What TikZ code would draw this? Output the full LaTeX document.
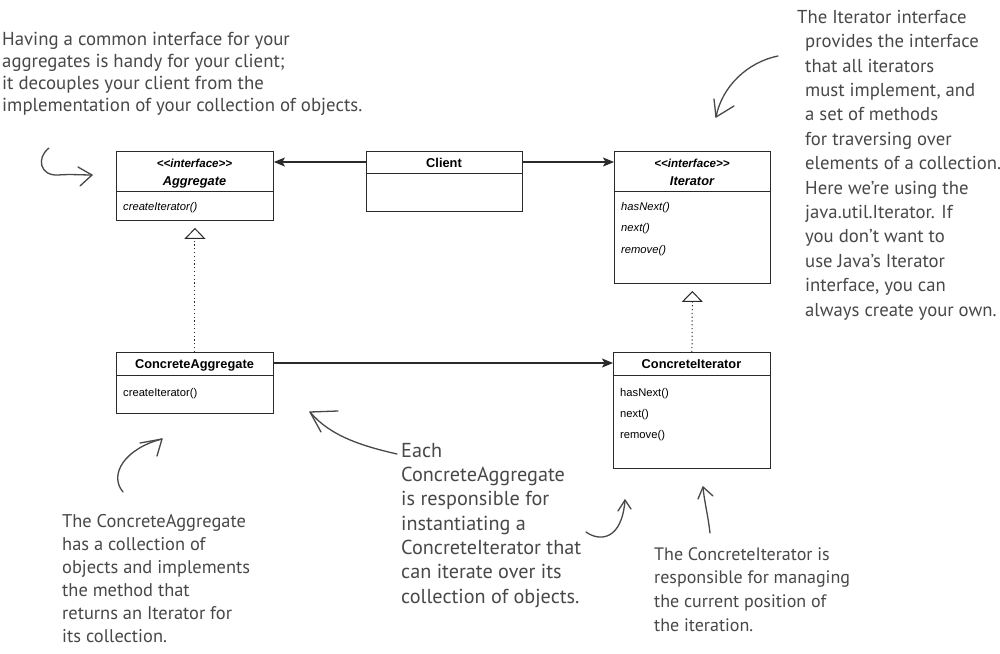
\documentclass[tikz,border=0pt]{standalone}
\usepackage{fontspec}
\setmainfont{Liberation Sans}
\newfontfamily\handfont{PT Sans}
\usetikzlibrary{arrows.meta,backgrounds}
\definecolor{handgray}{HTML}{484848}
\definecolor{umlgray}{HTML}{2A2A2A}
\begin{document}
\begin{tikzpicture}[x=1pt,y=-1pt,
  umlbox/.style={draw=umlgray, line width=0.9pt, fill=white, inner sep=0pt, anchor=north west},
  divider/.style={draw=umlgray, line width=0.8pt},
  title/.style={anchor=base, inner sep=0pt, font=\fontsize{12.8}{14}\selectfont\bfseries},
  ititle/.style={anchor=base, inner sep=0pt, font=\fontsize{12.8}{14}\selectfont\bfseries\itshape},
  stereo/.style={anchor=base, inner sep=0pt, font=\fontsize{11.6}{13}\selectfont\bfseries\itshape},
  meth/.style={anchor=base west, inner sep=0pt, font=\fontsize{11.2}{13}\selectfont},
  imeth/.style={anchor=base west, inner sep=0pt, font=\fontsize{11.2}{13}\selectfont\itshape},
  assoc/.style={draw=umlgray, line width=1.1pt, -{Stealth[length=11pt, width=9pt, inset=2.5pt]}},
  realize/.style={draw=umlgray, line width=1pt, dash pattern=on 1.2pt off 2.6pt,
    shorten >=7pt, -{Triangle[open, length=11pt, width=21pt, fill=white, line width=1pt]}},
  note/.style n args={2}{anchor=north west, align=left, inner sep=0pt, text=handgray,
    font=\handfont\fontsize{#1}{#2}\selectfont},
  hand/.style={draw=handgray, line width=1.3pt, line cap=round, line join=round}
]
\useasboundingbox (0,0) rectangle (1000,653);
\fill[white] (0,0) rectangle (1000,653);

% ---------- UML boxes ----------
\node[umlbox, minimum width=157pt, minimum height=69pt]  (agg)    at (116,151) {};
\node[umlbox, minimum width=156pt, minimum height=60pt]  (client) at (366,151) {};
\node[umlbox, minimum width=156pt, minimum height=132pt] (iter)   at (614,151) {};
\node[umlbox, minimum width=157pt, minimum height=61pt]  (cagg)   at (116,352) {};
\node[umlbox, minimum width=157pt, minimum height=116pt] (citer)  at (613,352) {};

\begin{scope}[on background layer]
  \foreach \n in {agg,client,iter,cagg,citer}{
    \foreach \k in {0,1,2,3,4}{
      \fill[black, opacity=0.13] ([shift={(6-\k,8-\k)}]\n.north west) rectangle ([shift={(1+\k,3+\k)}]\n.south east);
    }
  }
\end{scope}

% dividers
\draw[divider] (116,191) -- (273,191);
\draw[divider] (366,173) -- (522,173);
\draw[divider] (614,191) -- (770,191);
\draw[divider] (116,375) -- (273,375);
\draw[divider] (613,375) -- (770,375);

% texts
\node[stereo] (aggst) at (194.5,167) {{<}{<}interface{>}{>}};
\node[ititle] (aggt)  at (194.5,185) {Aggregate};
\node[imeth]  (aggm)  at (123,210) {createIterator()};

\node[title]  (clientt) at (444,167) {Client};

\node[stereo] (iterst) at (692,167) {{<}{<}interface{>}{>}};
\node[ititle] (itert)  at (692,185) {Iterator};
\node[imeth]  (iterm1) at (621,210) {hasNext()};
\node[imeth]  (iterm2) at (621,231) {next()};
\node[imeth]  (iterm3) at (621,253) {remove()};

\node[title]  (caggt) at (194.5,368) {ConcreteAggregate};
\node[meth]   (caggm) at (123,396) {createIterator()};

\node[title]  (citert)  at (691.5,368) {ConcreteIterator};
\node[meth]   (citerm1) at (620,396) {hasNext()};
\node[meth]   (citerm2) at (620,417) {next()};
\node[meth]   (citerm3) at (620,438) {remove()};

% ---------- UML connectors ----------
\draw[assoc] ([shift={(0,11)}]client.north west) -- ([shift={(0,11)}]agg.north east);
\draw[assoc] ([shift={(0,11)}]client.north east) -- ([shift={(0,11)}]iter.north west);
\draw[assoc] ([shift={(0,11)}]cagg.north east) -- ([shift={(0,11)}]citer.north west);
\draw[realize] (cagg.north) -- (agg.south);
\draw[realize] (citer.north) -- (iter.south);

% ---------- handwritten notes ----------
\node[note={18.8}{22.2pt}] (n1) at (2,31) {\rule{0pt}{14pt}Having a common interface for your\\
aggregates is handy for your client;\\
it decouples your client from the\\
implementation of your collection of objects.};

\node[note={18.7}{24.4pt}] (n2) at (805,9) {\rule{0pt}{14pt}\hspace*{-8pt}The Iterator interface\\
provides the interface\\
that all iterators\\
must implement, and\\
a set of methods\\
for traversing over\\
elements of a collection.\\
Here we’re using the\\
java.util.Iterator. If\\
you don’t want to\\
use Java’s Iterator\\
interface, you can\\
always create your own.};

\node[note={18.4}{23pt}] (n3) at (62,513) {\rule{0pt}{14pt}The ConcreteAggregate\\
has a collection of\\
objects and implements\\
the method that\\
returns an Iterator for\\
its collection.};

\node[note={20.2}{24.3pt}] (n4) at (401,443) {\rule{0pt}{14pt}Each\\
ConcreteAggregate\\
is responsible for\\
instantiating a\\
ConcreteIterator that\\
can iterate over its\\
collection of objects.};

\node[note={18}{23.6pt}] (n5) at (654,546) {\rule{0pt}{14pt}The ConcreteIterator is\\
responsible for managing\\
the current position of\\
the iteration.};

% ---------- hand-drawn arrows ----------
\coordinate (a1s) at (49,148);  \coordinate (a1t) at (92,175);
\draw[hand] (a1s) .. controls (36,158) and (40,176) .. (58,175) .. controls (70,174) and (82,175) .. (a1t);
\draw[hand] (78,167) -- (a1t) -- (80,186);

\coordinate (a2s) at (778,56);  \coordinate (a2t) at (716,117);
\draw[hand] (a2s) .. controls (748,62) and (722,86) .. (a2t);
\draw[hand] (714,99) -- (a2t) -- (734,106);

\coordinate (a3s) at (123,492); \coordinate (a3t) at (162,439);
\draw[hand] (a3s) .. controls (108,474) and (126,448) .. (a3t);
\draw[hand] (140,443) -- (a3t) -- (157,456);

\coordinate (a4s) at (397,454); \coordinate (a4t) at (310,412);
\draw[hand] (a4s) .. controls (362,446) and (330,436) .. (a4t);
\draw[hand] (338,411) -- (a4t) -- (321,432);

\coordinate (a5s) at (586,532); \coordinate (a5t) at (625,500);
\draw[hand] (a5s) .. controls (600,542) and (622,540) .. (a5t);
\draw[hand] (618,511) -- (a5t) -- (631,509);

\coordinate (a6s) at (710,533); \coordinate (a6t) at (703,487);
\draw[hand] (a6s) .. controls (708,515) and (704,500) .. (a6t);
\draw[hand] (698,499) -- (a6t) -- (713,496);
\end{tikzpicture}
\end{document}
